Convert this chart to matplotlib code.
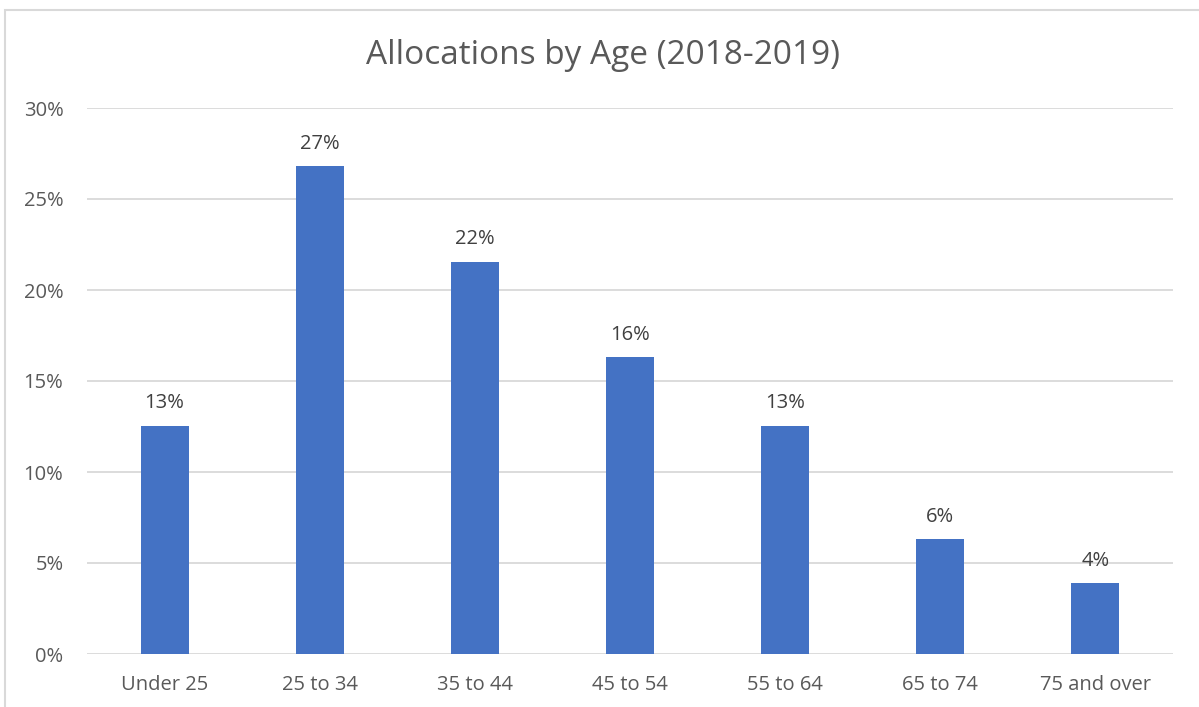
import matplotlib.pyplot as plt
from matplotlib.patches import Rectangle
from matplotlib.ticker import FuncFormatter

categories = ["Under 25", "25 to 34", "35 to 44", "45 to 54", "55 to 64", "65 to 74", "75 and over"]
shares = [12.55, 26.8, 21.55, 16.3, 12.55, 6.3, 3.9]
y_ticks = [0, 5, 10, 15, 20, 25, 30]

W, H = 1199, 707
plt.rcParams['font.family'] = ['Open Sans', 'DejaVu Sans']
text_col = '#595959'
label_col = '#404040'
grid_col = '#d9d9d9'
bar_col = '#4472c4'

fig = plt.figure(figsize=(W / 100, H / 100), dpi=100)
ax = fig.add_axes([87 / W, (H - 654) / H, (1173 - 87) / W, (654 - 108) / H])

# outer chart border (runs off the right and bottom edge)
fig.patches.append(Rectangle((5 / W, -0.05), 1.1, (H - 10) / H + 0.05,
                             transform=fig.transFigure, fill=False,
                             edgecolor=grid_col, linewidth=1.5, clip_on=False))

x = range(len(categories))
bars = ax.bar(x, shares, width=0.31, color=bar_col, zorder=3)

for b, v in zip(bars, shares):
    ax.annotate(f"{v:.0f}%", (b.get_x() + b.get_width() / 2, v),
                xytext=(0, 9), textcoords='offset points',
                ha='center', va='bottom', fontsize=14.5, color=label_col)

ax.set_xlim(-0.5, len(categories) - 0.5)
ax.set_ylim(0, 30)
ax.set_yticks(y_ticks)
ax.yaxis.set_major_formatter(FuncFormatter(lambda v, p: f"{v:.0f}%"))
ax.set_xticks(list(x))
ax.set_xticklabels(categories)
ax.tick_params(axis='both', length=0, labelsize=14.5, colors=text_col)
ax.tick_params(axis='y', pad=17)
ax.tick_params(axis='x', pad=15)
ax.grid(axis='y', color=grid_col, linewidth=1.3, zorder=0)
for s in ax.spines.values():
    s.set_visible(False)

fig.text(603 / W, 1 - 56 / H, "Allocations by Age (2018-2019)", ha='center', va='center',
         fontsize=24, color=text_col)

fig.savefig("out.png", dpi=100)
